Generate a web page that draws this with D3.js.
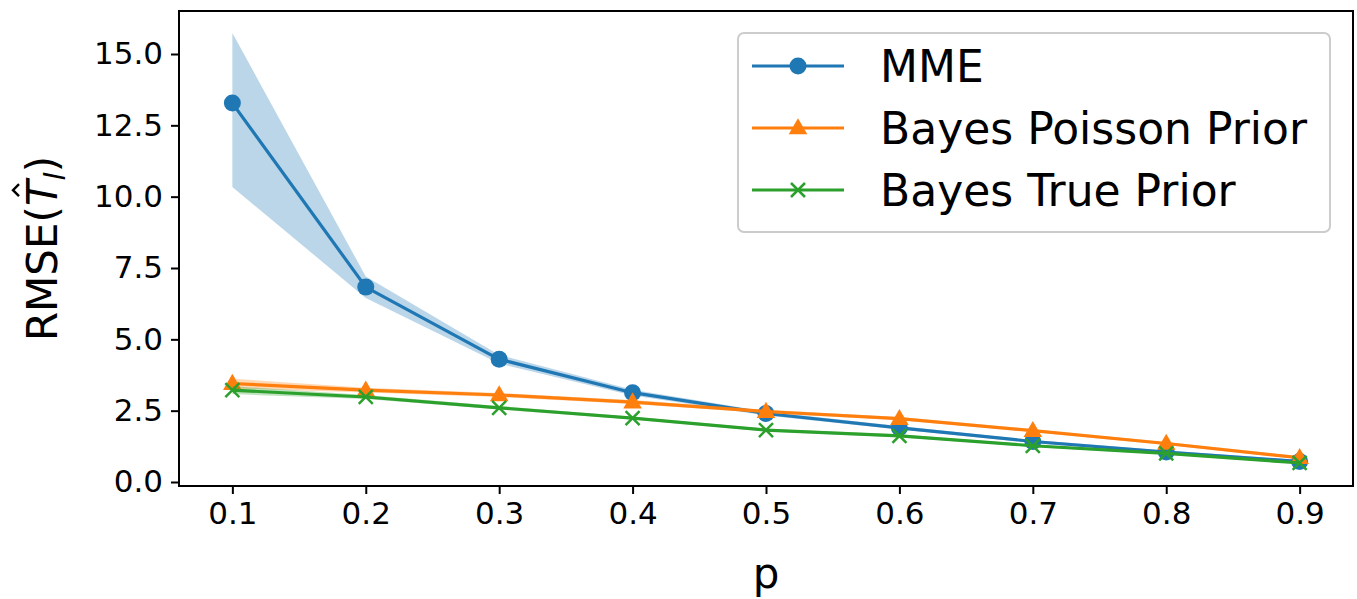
<!DOCTYPE html>
<html><head><meta charset="utf-8">
<script src="https://cdn.jsdelivr.net/npm/d3@7"></script>
<style>body{margin:0;background:#fff}svg{display:block}text{font-family:"DejaVu Sans",sans-serif;fill:#000}</style>
</head><body>
<svg id="c" width="1357" height="599"></svg>
<script>
const pValues = [0.1, 0.2, 0.3, 0.4, 0.5, 0.6, 0.7, 0.8, 0.9];
const mme     = [13.28, 6.83, 4.30, 3.13, 2.40, 1.90, 1.42, 1.05, 0.72];
const mmeLo   = [10.34, 6.45, 4.15, 3.03, 2.33, 1.84, 1.37, 1.00, 0.67];
const mmeHi   = [15.74, 7.20, 4.45, 3.23, 2.47, 1.96, 1.47, 1.10, 0.77];
const poisson   = [3.45, 3.22, 3.05, 2.80, 2.47, 2.22, 1.80, 1.35, 0.85];
const poissonLo = [3.28, 3.14, 2.98, 2.73, 2.41, 2.16, 1.75, 1.30, 0.80];
const poissonHi = [3.62, 3.30, 3.12, 2.87, 2.53, 2.28, 1.85, 1.40, 0.90];
const truePrior   = [3.22, 2.98, 2.60, 2.24, 1.82, 1.62, 1.27, 1.00, 0.67];
const truePriorLo = [3.08, 2.91, 2.54, 2.19, 1.77, 1.57, 1.23, 0.96, 0.63];
const truePriorHi = [3.36, 3.05, 2.66, 2.29, 1.87, 1.67, 1.31, 1.04, 0.71];
const xTicks = [0.1, 0.2, 0.3, 0.4, 0.5, 0.6, 0.7, 0.8, 0.9];
const yTicks = [0.0, 2.5, 5.0, 7.5, 10.0, 12.5, 15.0];
const seriesNames = ["MME", "Bayes Poisson Prior", "Bayes True Prior"];
const colors = ["#1f77b4", "#ff7f0e", "#2ca02c"];

const svg = d3.select("#c");
const L = 179, R = 1353, T = 11, B = 486;
const x = d3.scaleLinear().domain([0.06, 0.94]).range([L, R]);
const y = d3.scaleLinear().domain([-0.14, 16.507]).range([B, T]);

const series = [
  {name: seriesNames[0], v: mme, lo: mmeLo, hi: mmeHi, c: colors[0], m: "circle"},
  {name: seriesNames[1], v: poisson, lo: poissonLo, hi: poissonHi, c: colors[1], m: "triangle"},
  {name: seriesNames[2], v: truePrior, lo: truePriorLo, hi: truePriorHi, c: colors[2], m: "x"}
];

const g = svg.append("g");
const area = d3.area().x((d,i)=>x(pValues[i])).y0(d=>y(d[0])).y1(d=>y(d[1]));
const line = d3.line().x((d,i)=>x(pValues[i])).y(d=>y(d));

function marker(sel, type, c, cx, cy) {
  if (type === "circle") {
    sel.append("circle").attr("cx", cx).attr("cy", cy).attr("r", 8.5).attr("fill", c);
  } else if (type === "triangle") {
    const s = d3.symbol().type(d3.symbolTriangle).size(150)();
    sel.append("path").attr("d", s).attr("transform", `translate(${cx},${cy+1})`).attr("fill", c);
  } else {
    const h = 7;
    sel.append("path").attr("d", `M${cx-h},${cy-h}L${cx+h},${cy+h}M${cx-h},${cy+h}L${cx+h},${cy-h}`)
      .attr("stroke", c).attr("stroke-width", 2.5).attr("fill", "none");
  }
}

series.forEach(s => {
  const band = s.lo.map((l,i)=>[l, s.hi[i]]);
  g.append("path").attr("d", area(band)).attr("fill", s.c).attr("fill-opacity", 0.3).attr("stroke", "none");
  g.append("path").attr("d", line(s.v)).attr("fill", "none").attr("stroke", s.c).attr("stroke-width", 3.2)
    .attr("stroke-linejoin", "round").attr("stroke-linecap", "square");
  s.v.forEach((v,i)=>marker(g, s.m, s.c, x(pValues[i]), y(v)));
});

// frame
svg.append("rect").attr("x", L).attr("y", T).attr("width", R-L).attr("height", B-T)
  .attr("fill", "none").attr("stroke", "#000").attr("stroke-width", 2);

// axes
const xa = svg.append("g").attr("transform", `translate(0,${B})`)
  .call(d3.axisBottom(x).tickValues(xTicks).tickFormat(d3.format(".1f")).tickSize(8).tickPadding(8));
const ya = svg.append("g").attr("transform", `translate(${L},0)`)
  .call(d3.axisLeft(y).tickValues(yTicks).tickFormat(d3.format(".1f")).tickSize(8).tickPadding(8));
[xa, ya].forEach(a => {
  a.select(".domain").remove();
  a.selectAll(".tick line").attr("stroke", "#000").attr("stroke-width", 2);
  a.selectAll(".tick text").attr("font-size", 31).attr("font-family", "DejaVu Sans").attr("fill", "#000");
});

// axis labels
svg.append("text").attr("x", (L+R)/2).attr("y", 588).attr("text-anchor", "middle")
  .attr("font-size", 42).text("p");
const yl = svg.append("text").attr("transform", `translate(57,${(T+B)/2}) rotate(-90)`)
  .attr("text-anchor", "middle").attr("font-size", 42);
yl.append("tspan").text("RMSE(");
yl.append("tspan").attr("font-style", "italic").text("T");
yl.append("tspan").attr("font-size", 29).attr("font-style", "italic").attr("dy", 8).text("l");
yl.append("tspan").attr("dy", -8).text(")");
// hat over T
const lbl = yl.node();
const tsp = lbl.querySelectorAll("tspan");
const ext = tsp[1].getExtentOfChar ? tsp[1].getExtentOfChar(0) : null;
if (ext) {
  const hx = ext.x + ext.width/2 + 3, hy = ext.y - 4;
  svg.append("path").attr("transform", `translate(57,${(T+B)/2}) rotate(-90)`)
    .attr("d", `M${hx-6},${hy+5}L${hx},${hy-1}L${hx+6},${hy+5}`)
    .attr("fill", "none").attr("stroke", "#000").attr("stroke-width", 2.4);
}

// legend
const lg = svg.append("g");
lg.append("rect").attr("x", 738).attr("y", 33).attr("width", 592).attr("height", 199).attr("rx", 6)
  .attr("fill", "#fff").attr("fill-opacity", 0.8).attr("stroke", "#cccccc").attr("stroke-width", 2);
const rows = [66, 128, 190];
series.forEach((s, i) => {
  lg.append("line").attr("x1", 752).attr("x2", 844).attr("y1", rows[i]).attr("y2", rows[i])
    .attr("stroke", s.c).attr("stroke-width", 3.2);
  marker(lg, s.m, s.c, 798, rows[i]);
  lg.append("text").attr("x", 880).attr("y", rows[i]).attr("dy", "0.36em").attr("font-size", 44).text(s.name);
});
</script>
</body></html>
